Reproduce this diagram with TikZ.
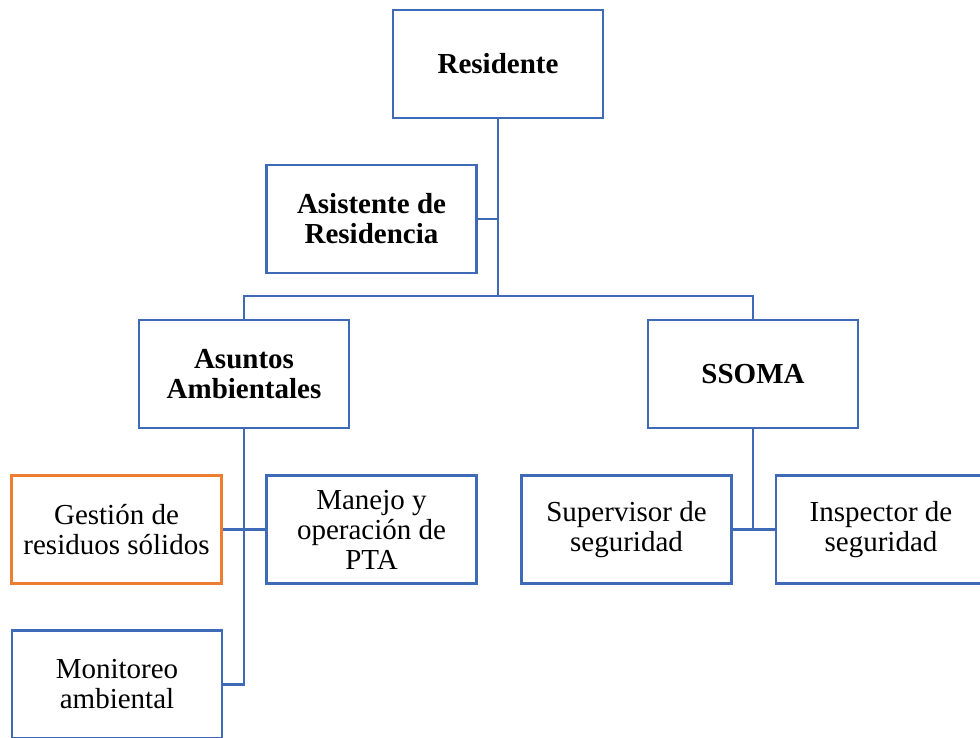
\documentclass[tikz,border=0pt]{standalone}
\usepackage{fontspec}
\setmainfont{Liberation Serif}
\definecolor{boxblue}{HTML}{3F6AB8}
\definecolor{boxorange}{HTML}{ED7D31}
\begin{document}
\begin{tikzpicture}[x=1pt, y=-1pt,
		unit/.style={draw=boxblue, line width=2.8pt, minimum width=210pt, minimum height=108pt, align=center, font=\fontsize{29}{30}\selectfont},
		head/.style={unit, font=\fontsize{29}{30}\selectfont\bfseries},
		link/.style={draw=boxblue, line width=2.8pt}]
			\useasboundingbox (0,0) rectangle (980,738);
			\node[head] (res) at (498,64) {Residente};
			\node[head] (asis) at (371.5,219) {Asistente de\\Residencia};
			\node[head] (asun) at (244,374) {Asuntos\\Ambientales};
			\node[head] (ssoma) at (753,374) {SSOMA};
			\node[unit, draw=boxorange] (gest) at (116.5,529.5) {Gestión de\\residuos sólidos};
			\node[unit] (manejo) at (371.5,529.5) {Manejo y\\operación de\\PTA};
			\node[unit] (sup) at (626.5,529.5) {Supervisor de\\seguridad};
			\node[unit] (insp) at (881,529.5) {Inspector de\\seguridad};
			\node[unit] (moni) at (117,684.5) {Monitoreo\\ambiental};
			\coordinate (j1) at (498,296);
			
			\draw[link] (res.south) -- (j1);
			\draw[link] (asis.east) -| (j1);
			\draw[link] (asun.north) |- (j1) -| (ssoma.north);
			
			\draw[link] (asun.south) |- (moni.east);
			\draw[link] (gest.east) -- (manejo.west);
			
			\draw[link] (ssoma.south) -- (ssoma.south |- sup.east);
			\draw[link] (sup.east) -- (insp.west);
			
		\end{tikzpicture}
\end{document}
